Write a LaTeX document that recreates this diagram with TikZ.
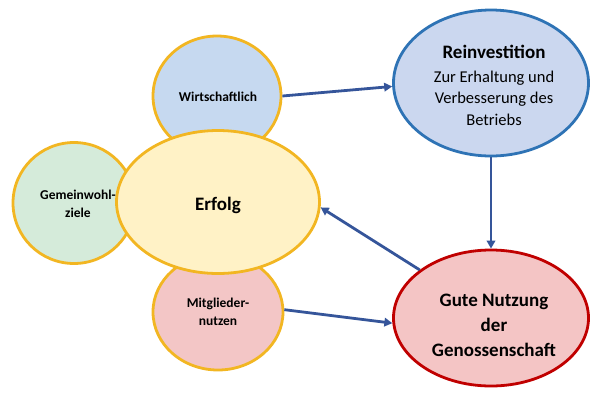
\documentclass[tikz,border=0pt]{standalone}
\usepackage{fontspec}
\setmainfont{Carlito}
\usetikzlibrary{shapes.geometric,arrows.meta}
\definecolor{gold}{HTML}{F2B622}
\definecolor{wfill}{HTML}{C6D9F0}
\definecolor{gfill}{HTML}{D5EBDA}
\definecolor{efill}{HTML}{FFF2C6}
\definecolor{mfill}{HTML}{F3C6C6}
\definecolor{rfill}{HTML}{CBD7EF}
\definecolor{rline}{HTML}{2E73B5}
\definecolor{nfill}{HTML}{F4C5C5}
\definecolor{nline}{HTML}{C00000}
\definecolor{arr}{HTML}{35559A}
\tikzset{
  bubble/.style={ellipse, draw=gold, line width=2.8pt, inner sep=0pt},
  lbl/.style={align=center, inner sep=0pt, font=\bfseries\fontsize{13.5}{18}\selectfont},
  conn/.style={draw=arr, line width=2.8pt, -{Triangle[length=8pt,width=8.5pt]}}
}
\begin{document}
\begin{tikzpicture}[x=1pt,y=-1pt]
\useasboundingbox (0,0) rectangle (590,392);
\node[bubble, fill=wfill, minimum width=128pt, minimum height=120pt] (w) at (217,96) {};
\node[bubble, fill=gfill, minimum width=122pt, minimum height=121pt] (gm) at (74,203) {};
\node[bubble, fill=mfill, minimum width=130pt, minimum height=116pt] (m) at (218,312) {};
\node[bubble, fill=efill, minimum width=203pt, minimum height=143pt] (e) at (218,202) {};
\node[ellipse, draw=rline, fill=rfill, line width=2.8pt, inner sep=0pt, minimum width=195pt, minimum height=146pt] (r) at (491,83) {};
\node[ellipse, draw=nline, fill=nfill, line width=2.8pt, inner sep=0pt, minimum width=195pt, minimum height=136pt] (g) at (491,318) {};

\node[lbl] (wt) at (218,97) {Wirtschaftlich};
\node[lbl] (gmt) at (78,204) {Gemeinwohl-\\ziele};
\node[lbl] (mt) at (218,312) {Mitglieder-\\nutzen};
\node[lbl, font=\bfseries\fontsize{19}{24}\selectfont] (et) at (218,205) {Erfolg};
\node[lbl, font=\fontsize{19}{24}\selectfont] (rh) at (494,52) {\bfseries Reinvestition};
\node[align=center, inner sep=0pt, font=\fontsize{16.5}{21.5}\selectfont] (rt) at (494,98) {Zur Erhaltung und\\Verbesserung des\\Betriebs};
\node[lbl, font=\bfseries\fontsize{19}{25}\selectfont] (gt) at (494,325) {Gute Nutzung\\der\\Genossenschaft};

\draw[conn] (w.east) -- (r.182);
\draw[conn] (r.south) -- (g.north);
\draw[conn] (g.146) -- (e.-3);
\draw[conn] (m.2) -- (g.183);
\end{tikzpicture}
\end{document}
